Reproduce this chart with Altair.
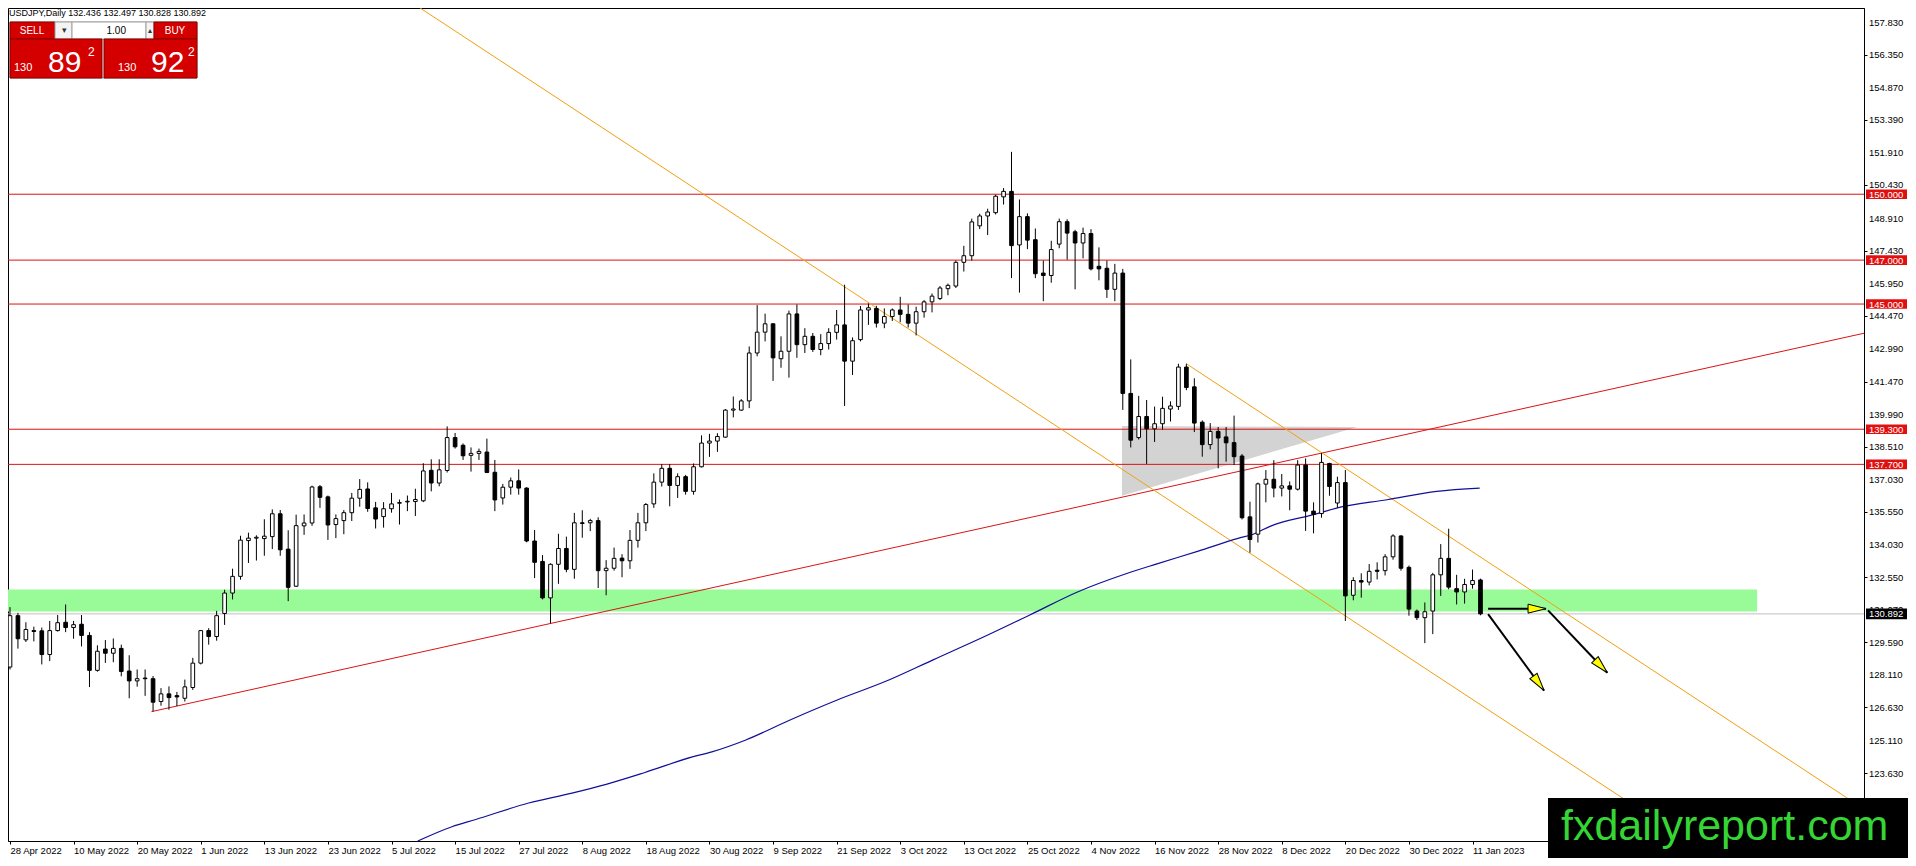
import math
import altair as alt
import pandas as pd

# ---------------- data ----------------
opens = [128.47,130.81,129.71,130.13,130.12,129.04,130.13,130.51,130.27,130.42,
         129.91,128.32,129.29,129.10,129.32,128.29,127.84,127.97,127.94,126.90,
         127.25,127.17,127.05,127.54,128.65,130.13,129.86,130.91,131.84,132.60,
         134.23,134.34,134.32,134.41,135.45,133.84,132.15,134.90,135.03,136.68,
         136.22,134.96,135.14,135.50,136.16,136.58,135.72,135.32,135.68,135.93,
         135.99,136.01,136.04,137.43,136.85,137.42,138.92,138.57,138.11,138.20,
         138.26,137.34,136.17,136.66,136.95,136.62,134.21,133.28,131.62,133.15,
         133.87,132.92,135.04,135.04,135.14,132.86,132.97,133.43,133.31,134.24,
         135.04,135.90,136.89,137.52,136.74,137.14,136.47,137.59,138.67,138.76,
         138.94,140.17,140.17,140.59,142.77,143.72,144.10,142.51,142.85,144.55,
         143.15,143.53,142.93,143.20,143.71,144.05,142.40,143.38,144.73,144.80,
         144.13,144.43,144.73,144.53,144.13,144.65,145.10,145.25,145.70,145.82,
         146.90,147.20,148.56,149.01,149.16,149.88,150.13,147.69,148.98,147.93,
         146.41,146.30,147.73,148.75,148.29,147.78,148.21,146.72,146.63,145.67,
         146.41,140.93,138.92,139.88,139.32,139.55,140.22,140.34,142.13,141.23,
         139.62,138.60,139.20,138.95,138.69,138.08,135.31,134.52,136.80,137.02,
         136.62,136.72,136.57,137.67,135.57,135.46,137.74,135.94,136.87,131.74,
         132.41,132.34,132.88,132.86,133.49,134.44,133.01,131.02,130.72,131.02,
         132.67,133.42,132.04,131.89,132.23,132.436]
highs = [131.20,130.94,130.51,130.31,130.27,130.57,130.84,131.32,130.57,130.84,
         130.06,129.46,129.70,129.77,129.49,129.01,128.36,128.36,128.06,127.51,
         127.59,127.34,127.90,128.89,130.16,130.24,131.03,131.99,132.95,134.45,
         134.59,134.47,135.20,135.65,135.62,134.70,135.41,135.42,136.73,136.76,
         136.28,135.42,135.62,136.40,137.03,136.88,135.99,135.98,136.40,136.10,
         136.28,136.59,137.75,137.93,137.93,139.43,139.13,138.65,138.47,138.42,
         138.87,137.90,136.81,137.10,137.47,136.66,134.71,133.57,133.19,134.54,
         134.41,135.49,135.61,135.22,135.29,133.34,133.91,133.61,134.71,135.49,
         135.94,137.29,137.71,137.71,137.29,137.22,137.74,139.02,139.09,139.12,
         140.22,140.79,140.67,143.07,144.95,144.56,144.13,143.53,144.70,144.98,
         143.90,143.68,143.63,143.90,144.73,145.88,143.48,144.91,145.03,144.92,
         144.80,144.80,145.33,144.98,144.88,145.18,145.48,145.82,145.93,146.98,
         147.65,148.89,149.11,149.34,149.98,150.28,151.93,149.76,149.13,148.44,
         146.98,147.88,148.89,148.86,148.38,148.48,148.41,147.58,146.98,146.83,
         146.60,142.48,140.82,140.63,140.33,140.78,140.57,142.28,142.28,141.62,
         139.70,139.58,139.40,139.40,139.92,138.17,136.00,136.87,137.44,137.89,
         137.26,136.92,137.89,137.97,135.97,138.22,137.77,137.14,137.44,132.56,
         132.74,133.16,133.24,133.61,134.52,134.47,133.09,131.09,131.41,132.76,
         134.07,134.77,132.67,132.49,132.91,132.497]
lows = [128.36,129.31,129.61,129.64,128.59,128.74,130.09,130.06,129.76,129.41,
        127.56,128.26,128.66,128.69,128.05,127.05,127.58,127.16,126.45,126.71,
        126.53,126.69,126.90,127.43,128.59,129.49,129.67,130.39,131.55,132.45,
        133.21,133.32,133.54,133.84,133.54,131.47,132.12,134.49,134.90,135.72,
        134.26,134.34,134.52,135.12,135.77,135.54,134.78,134.82,135.50,134.96,
        135.57,135.35,135.98,136.47,136.70,137.33,138.42,137.90,137.37,137.90,
        137.30,135.57,135.87,136.32,136.32,134.15,132.52,131.55,130.46,132.26,
        132.79,132.49,134.36,134.66,132.07,131.74,132.86,132.56,132.94,133.91,
        134.66,135.72,136.69,135.79,136.17,136.32,136.32,137.56,138.04,138.27,
        138.91,139.84,140.14,140.26,142.62,143.30,141.50,142.10,141.65,142.55,
        142.77,142.82,142.67,142.93,143.38,140.36,141.77,143.30,144.05,143.93,
        143.90,144.23,144.17,143.93,143.57,144.38,144.62,145.18,145.40,145.73,
        146.48,146.98,148.41,148.14,149.08,149.53,146.18,145.52,147.50,146.18,
        145.13,145.97,147.54,147.02,145.67,147.08,146.53,146.08,145.28,145.13,
        140.18,138.47,138.83,137.72,138.72,139.28,139.65,140.18,141.08,139.17,
        138.05,138.38,137.52,137.82,137.67,135.19,133.68,134.14,135.97,136.20,
        136.24,135.61,136.51,134.67,134.56,135.27,136.27,135.72,130.57,131.51,
        131.63,132.19,132.46,132.64,133.36,132.86,130.81,130.61,129.56,129.97,
        131.71,132.01,131.32,131.36,132.04,130.828]
closes = [130.81,129.76,130.18,130.09,129.04,130.13,130.49,130.27,130.40,129.91,
          128.32,129.19,129.10,129.32,128.27,127.84,127.94,127.94,126.87,127.25,
          127.08,127.11,127.57,128.65,130.13,129.86,130.81,131.84,132.60,134.25,
          134.34,134.38,134.43,135.45,133.81,132.10,134.91,135.03,136.67,136.20,
          134.94,135.23,135.50,136.16,136.56,135.69,135.21,135.68,135.90,135.96,
          136.02,136.10,137.40,136.85,137.45,138.92,138.50,138.09,138.20,138.29,
          137.33,136.08,136.66,136.95,136.62,134.21,133.24,131.62,133.15,133.87,
          132.92,135.04,135.01,135.14,132.86,132.97,133.42,133.31,134.24,135.04,
          135.87,136.89,137.52,136.74,137.14,136.47,137.59,138.67,138.76,138.97,
          140.17,140.22,140.59,142.77,143.72,144.10,142.55,142.85,144.55,143.15,
          143.53,142.93,143.20,143.71,144.05,142.40,143.33,144.73,144.83,144.13,
          144.43,144.73,144.53,144.13,144.65,145.10,145.36,145.73,145.85,146.90,
          147.20,148.74,149.01,149.19,149.91,150.13,147.66,148.98,147.91,146.38,
          146.30,147.48,148.75,148.23,147.78,148.21,146.60,146.60,145.67,146.41,
          140.93,138.80,139.88,139.32,139.55,140.25,140.36,142.13,141.20,139.58,
          138.60,139.20,138.90,138.68,138.05,135.27,134.28,136.81,137.02,136.62,
          136.72,136.57,137.67,135.57,135.42,137.79,136.69,136.87,131.71,132.41,
          132.34,132.83,132.83,133.49,134.44,132.97,131.11,130.72,130.99,132.67,
          133.42,132.11,131.89,132.23,132.41,130.892]
bars = list(range(len(closes)))

date_ticks = list(range(0, 185, 8))
date_labels = ["28 Apr 2022", "10 May 2022", "20 May 2022", "1 Jun 2022", "13 Jun 2022",
               "23 Jun 2022", "5 Jul 2022", "15 Jul 2022", "27 Jul 2022", "8 Aug 2022",
               "18 Aug 2022", "30 Aug 2022", "9 Sep 2022", "21 Sep 2022", "3 Oct 2022",
               "13 Oct 2022", "25 Oct 2022", "4 Nov 2022", "16 Nov 2022", "28 Nov 2022",
               "8 Dec 2022", "20 Dec 2022", "30 Dec 2022", "11 Jan 2023"]

price_ticks = [157.830, 156.350, 154.870, 153.390, 151.910, 150.430, 148.910, 147.430,
               145.950, 144.470, 142.990, 141.470, 139.990, 138.510, 137.030, 135.550,
               134.030, 132.550, 131.070, 129.590, 128.110, 126.630, 125.110, 123.630]

levels = [150.0, 147.0, 145.0, 139.3, 137.7]
level_labels = ["150.000", "147.000", "145.000", "139.300", "137.700"]
last_price = 130.892
last_label = "130.892"
header_text = "USDJPY,Daily  132.436 132.497 130.828 130.892"

zone_bars = [-0.25, 219.8]
zone_prices = [131.0, 132.0]

ma_bars = [51.3, 55.6, 58.6, 65.25, 70.7, 75.0, 79.8, 85.85, 88.3, 92.5, 98.0, 104.0,
           110.1, 116.2, 122.2, 128.3, 134.3, 140.4, 144.3, 149.5, 154.5, 156.4, 158.6,
           164.1, 167.0, 173.25, 179.5, 184.9]
ma_vals = [120.55, 121.20, 121.53, 122.28, 122.73, 123.13, 123.66, 124.38, 124.61, 125.14,
           126.04, 126.96, 127.81, 128.81, 129.79, 130.84, 131.89, 132.72, 133.17, 133.75,
           134.33, 134.52, 134.89, 135.42, 135.72, 136.09, 136.47, 136.62]

# trend lines: [start bar, end bar], [start price, end price]
red_trend_bars = [17.8, 233.25]
red_trend_prices = [126.44, 143.67]
orange_low_bars = [51.6, 211.1]
orange_low_prices = [158.48, 120.55]
orange_up_bars = [148.0, 231.2]
orange_up_prices = [142.28, 122.49]

tri_bars = [139.9, 169.5]
tri_bottom = [136.27, 139.40]
tri_top = [139.45, 139.40]

arrow_x0 = [185.96, 185.96, 193.5]
arrow_y0 = [131.13, 130.88, 131.05]
arrow_x1 = [193.25, 193.0, 200.96]
arrow_y1 = [131.13, 127.40, 128.21]

# ---------------- layout ----------------
W, H = 1856, 833
XDOM = [-0.25, 233.25]
YDOM = [120.55, 158.48]
FONT = "Liberation Sans"
RED = "#d81414"
ORANGE = "#f0a010"

xs = alt.Scale(domain=XDOM, nice=False, zero=False)
ys = alt.Scale(domain=YDOM, nice=False, zero=False)

labels_js = "[" + ",".join("'" + s + "'" for s in date_labels) + "]"
x_axis = alt.Axis(values=date_ticks, labelExpr=labels_js + "[round(datum.value / 8)]",
                  grid=False, tickSize=3, labelAlign="left", labelFlush=False,
                  labelOverlap=False, labelPadding=1, labelFont=FONT, labelFontSize=9.5,
                  labelColor="black", domainColor="black", tickColor="black", title=None)
y_axis = alt.Axis(orient="right", values=price_ticks, labels=False, grid=False, tickSize=3,
                  domainColor="black", tickColor="black", title=None)

candles = pd.DataFrame({"k": bars, "o": opens, "h": highs, "l": lows, "c": closes})
candles["dir"] = ["up" if c >= o else "down" for o, c in zip(opens, closes)]
candles["k0"] = candles["k"] - 0.23
candles["k1"] = candles["k"] + 0.23

one = pd.DataFrame({"a": [0]})

# background zone
zone = alt.Chart(pd.DataFrame({"x": [zone_bars[0]], "x2": [zone_bars[1]],
                               "y": [zone_prices[0]], "y2": [zone_prices[1]]})).mark_rect(
    color="#98fb98").encode(
    x=alt.X("x:Q", scale=xs, axis=x_axis), x2="x2:Q",
    y=alt.Y("y:Q", scale=ys, axis=y_axis), y2="y2:Q")

tri = alt.Chart(pd.DataFrame({"x": tri_bars, "y": tri_bottom, "y2": tri_top})).mark_area(
    color="#d3d3d3", opacity=1).encode(x=alt.X("x:Q", scale=xs), y=alt.Y("y:Q", scale=ys), y2="y2:Q")

hlines = alt.Chart(pd.DataFrame({"p": levels})).mark_rule(color=RED, strokeWidth=1).encode(
    y=alt.Y("p:Q", scale=ys))
cur_line = alt.Chart(pd.DataFrame({"p": [last_price]})).mark_rule(
    color="#c0c0c0", strokeWidth=1).encode(y=alt.Y("p:Q", scale=ys))

def seg(xb, yp, color, width=1):
    d = pd.DataFrame({"x": [xb[0]], "x2": [xb[1]], "y": [yp[0]], "y2": [yp[1]]})
    return alt.Chart(d).mark_rule(color=color, strokeWidth=width, clip=True).encode(
        x=alt.X("x:Q", scale=xs), x2="x2:Q", y=alt.Y("y:Q", scale=ys), y2="y2:Q")

red_tl = seg(red_trend_bars, red_trend_prices, RED)
or_low = seg(orange_low_bars, orange_low_prices, ORANGE)
or_up = seg(orange_up_bars, orange_up_prices, ORANGE)

ma = alt.Chart(pd.DataFrame({"k": ma_bars, "v": ma_vals})).mark_line(
    color="#101098", strokeWidth=1.2, clip=True, interpolate="monotone").encode(
    x=alt.X("k:Q", scale=xs), y=alt.Y("v:Q", scale=ys), order="k:Q")

wicks = alt.Chart(candles).mark_rule(color="black", strokeWidth=1).encode(
    x=alt.X("k:Q", scale=xs), y=alt.Y("l:Q", scale=ys), y2="h:Q")
bodies = alt.Chart(candles).mark_rect(stroke="black", strokeWidth=1).encode(
    x=alt.X("k0:Q", scale=xs), x2="k1:Q", y=alt.Y("o:Q", scale=ys), y2="c:Q",
    fill=alt.Fill("dir:N", scale=alt.Scale(domain=["up", "down"], range=["white", "black"]),
                  legend=None))

# arrows
px_per_bar = W / (XDOM[1] - XDOM[0])
px_per_yen = H / (YDOM[1] - YDOM[0])
angles = [math.degrees(math.atan2((a - b) * px_per_yen, (d - c) * px_per_bar)) % 360
          for a, b, c, d in zip(arrow_y0, arrow_y1, arrow_x0, arrow_x1)]
arr = pd.DataFrame({"x": arrow_x0, "y": arrow_y0, "x2": arrow_x1, "y2": arrow_y1, "ang": angles})
shafts = alt.Chart(arr).mark_rule(color="black", strokeWidth=2).encode(
    x=alt.X("x:Q", scale=xs), x2="x2:Q", y=alt.Y("y:Q", scale=ys), y2="y2:Q")
heads = alt.Chart(arr).mark_point(shape="M0,0L-2,-0.5L-2,0.5Z", filled=True, fill="#ffff00",
                                  stroke="black", strokeWidth=1, opacity=1, size=324).encode(
    x=alt.X("x2:Q", scale=xs), y=alt.Y("y2:Q", scale=ys), angle=alt.Angle("ang:Q", scale=None))

# right-hand price labels (drawn as text so none get thinned out)
tick_df = pd.DataFrame({"p": price_ticks, "lbl": ["%.3f" % v for v in price_ticks]})
tick_text = alt.Chart(tick_df).mark_text(align="left", baseline="middle", font=FONT,
                                         fontSize=9.5, color="black", dy=0.5).encode(
    x=alt.value(W + 5), y=alt.Y("p:Q", scale=ys), text="lbl:N")

# right-hand price tags
red_tags = pd.DataFrame({"p": levels, "lbl": level_labels})
red_tags["lo"] = red_tags["p"] - 0.22
red_tags["hi"] = red_tags["p"] + 0.22
cur_tag = pd.DataFrame({"p": [last_price], "lbl": [last_label]})
cur_tag["lo"] = cur_tag["p"] - 0.24
cur_tag["hi"] = cur_tag["p"] + 0.24

def tag_layers(df, fill):
    r = alt.Chart(df).mark_rect(fill=fill).encode(
        x=alt.value(W + 2), x2=alt.value(W + 43), y=alt.Y("lo:Q", scale=ys), y2="hi:Q")
    t = alt.Chart(df).mark_text(align="left", baseline="middle", font=FONT, fontSize=9.5,
                                color="white", dy=0.5).encode(
        x=alt.value(W + 5), y=alt.Y("p:Q", scale=ys), text="lbl:N")
    return [r, t]

# helpers for pixel-placed decorations
def prect(x, x2, y, y2, fill, stroke=None, sw=1):
    kw = {"fill": fill}
    if stroke:
        kw["stroke"] = stroke
        kw["strokeWidth"] = sw
    return alt.Chart(one).mark_rect(**kw).encode(
        x=alt.value(x), x2=alt.value(x2), y=alt.value(y), y2=alt.value(y2))

def ptext(x, y, t, size, color="white", align="left", weight="normal", font=FONT):
    return alt.Chart(one).mark_text(text=t, align=align, baseline="alphabetic", font=font,
                                    fontSize=size, color=color, fontWeight=weight).encode(
        x=alt.value(x), y=alt.value(y))

deco = [
    # logo
    prect(1540, 1900, 790, 850, "black"),
    ptext(1553, 832, "fxdailyreport.com", 43, color="#35d535"),
    # header
    ptext(1, 8, header_text, 9, color="black"),
    # one-click trading panel
    prect(2, 189, 14, 70, "#f0f0f0", "#a0a0a0"),
    prect(2, 47, 14, 31, "#d40000", "#8a0000"),
    prect(47, 64, 14, 31, "#f4f4f4", "#a0a0a0"),
    prect(64, 138, 14, 31, "white", "#a0a0a0"),
    prect(138, 146, 14, 31, "#f4f4f4", "#a0a0a0"),
    prect(146, 189, 14, 31, "#d40000", "#8a0000"),
    prect(2, 94, 31, 70, "#d40000", "#8a0000"),
    prect(96, 189, 31, 70, "#d40000", "#8a0000"),
    ptext(24, 26, "SELL", 10, align="center"),
    ptext(167, 26, "BUY", 10, align="center"),
    ptext(56, 25, "▾", 9, color="#333333", align="center"),
    ptext(142, 25, "▴", 8, color="#333333", align="center"),
    ptext(118, 26, "1.00", 10, color="black", align="right"),
    ptext(6, 63, "130", 11),
    ptext(40, 64, "89", 30),
    ptext(80, 48, "2", 12),
    ptext(110, 63, "130", 11),
    ptext(143, 64, "92", 30),
    ptext(180, 48, "2", 12),
]

chart = alt.layer(
    zone, tri, hlines, cur_line, red_tl, or_low, or_up, ma, wicks, bodies,
    shafts, heads, tick_text, *tag_layers(red_tags, "#e01010"),
    *tag_layers(cur_tag, "black"), *deco
).properties(
    width=W, height=H,
    autosize=alt.AutoSizeParams(type="none"),
    padding={"left": 0, "top": 0, "right": 44, "bottom": 17},
    background="white",
).configure_view(stroke="black", strokeWidth=1)

chart.save("out.html", embed_options={"renderer": "svg", "actions": False})
